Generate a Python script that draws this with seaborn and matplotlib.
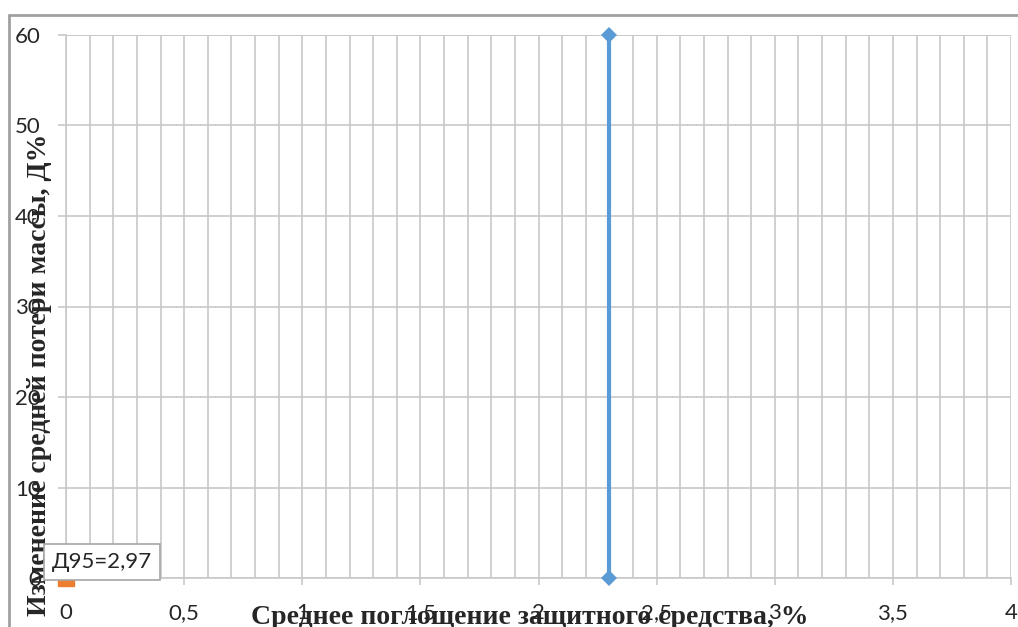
import matplotlib
matplotlib.use("Agg")
import matplotlib.pyplot as plt
import numpy as np
import seaborn as sns
from matplotlib.lines import Line2D

# data
blue_x = [2.3, 2.3]
blue_y = [0, 60]
orange_x = [0]
orange_y = [0]
x_ticks = [0, 0.5, 1, 1.5, 2, 2.5, 3, 3.5, 4]
x_tick_labels = ["0", "0,5", "1", "1,5", "2", "2,5", "3", "3,5", "4"]
y_ticks = [0, 10, 20, 30, 40, 50, 60]
x_label = "Среднее поглощение защитного средства, %"
y_label = "Изменение средней потери массы, Д%"
note = "Д95=2,97"

BLUE = "#5B9BD5"
ORANGE = "#ED7D31"
GRID = "#C8C8C8"
TEXT = "#262626"

sns.set_theme(style="white")
plt.rcParams["font.family"] = ["Lato", "DejaVu Sans"]

W, H = 1018, 627
fig = plt.figure(figsize=(W / 100, H / 100), dpi=100)
ax = fig.add_axes([66 / W, 1 - 578 / H, (1011 - 66) / W, (578 - 35) / H])

sns.lineplot(x=blue_x, y=blue_y, ax=ax, color=BLUE, linewidth=3.0,
             estimator=None, sort=False, marker="D", markersize=8,
             markeredgewidth=0, clip_on=False, zorder=4)
ax.plot(orange_x, orange_y, marker="s", markersize=11, color=ORANGE,
        linestyle="none", clip_on=False, zorder=2)

ax.set_xlim(0, 4)
ax.set_ylim(0, 60)
ax.set_xticks(x_ticks)
ax.set_xticklabels(x_tick_labels)
ax.set_yticks(y_ticks)
ax.set_xticks(np.arange(0, 4.001, 0.1), minor=True)
ax.grid(True, which="both", axis="x", color=GRID, linewidth=1.2)
ax.grid(True, which="major", axis="y", color=GRID, linewidth=1.2)
ax.set_axisbelow(True)
for side in ["top", "right"]:
    ax.spines[side].set_visible(False)
for side in ["left", "bottom"]:
    ax.spines[side].set_color(GRID)
    ax.spines[side].set_linewidth(1.2)
ax.tick_params(axis="x", which="major", direction="out", length=5,
               width=1.2, color=GRID, pad=13, labelsize=16, labelcolor=TEXT,
               bottom=True)
ax.tick_params(axis="x", which="minor", length=0)
ax.tick_params(axis="y", direction="out", length=6, width=1.2, color=GRID,
               pad=12, labelsize=16, labelcolor=TEXT, left=True)

# axis titles (overlapping the tick labels like the original)
fig.text(530 / W, 1 - 624 / H, x_label, ha="center", va="baseline",
         fontsize=20, fontweight="bold", family="Liberation Serif",
         color=TEXT)
fig.text(40 / W, 1 - 375 / H, y_label, ha="center", va="center",
         rotation=90, fontsize=20, fontweight="bold",
         family="Liberation Serif", color=TEXT)

# data label box
fig.text(52 / W, 1 - 562 / H, note, ha="left", va="center", fontsize=16,
         color=TEXT, zorder=5,
         bbox=dict(boxstyle="square,pad=0.35", fc="white", ec="#A6A6A6",
                   lw=1.2))

# outer chart frame
fig.add_artist(Line2D([9 / W, 9 / W], [0, 1 - 15 / H], color="#A0A0A0",
                      lw=2, transform=fig.transFigure))
fig.add_artist(Line2D([9 / W, 1], [1 - 15 / H, 1 - 15 / H], color="#A0A0A0",
                      lw=2, transform=fig.transFigure))

ax.axhline(60, color=GRID, lw=1.2, zorder=1)

fig.savefig("out.png", dpi=100)
